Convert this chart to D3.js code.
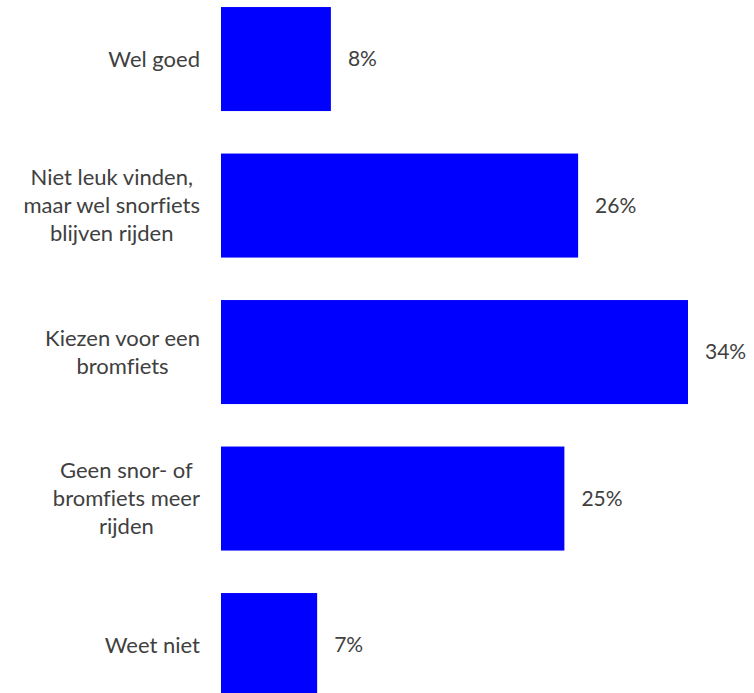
<!DOCTYPE html>
<html>
<head>
<meta charset="utf-8">
<script src="https://cdn.jsdelivr.net/npm/d3@7"></script>
<style>
  html, body { margin: 0; padding: 0; background: #ffffff; }
  svg { display: block; }
  text { font-family: Lato, "Open Sans", sans-serif; fill: #404040; font-variant-ligatures: none; }
</style>
</head>
<body>
<svg id="chart" width="754" height="693"></svg>
<script>
// Answer categories (each label broken into its display lines)
const categories = [
  ["Wel goed"],
  ["Niet leuk vinden,", "maar wel snorfiets", "blijven rijden"],
  ["Kiezen voor een", "bromfiets"],
  ["Geen snor- of", "bromfiets meer", "rijden"],
  ["Weet niet"]
];
// Share of respondents, in percent
const values = [8, 26, 34, 25, 7];

const keys = categories.map(c => c.join(" "));
const data = keys.map((k, i) => ({ key: k, lines: categories[i], value: values[i] }));

const svg = d3.select("#chart");
const labelSize = 22;
const valueSize = 21;
const lineHeight = 28;
const barLeft = 221;
const labelRight = 200;

const x = d3.scaleLinear().domain([0, 34]).range([barLeft, barLeft + 467]);
const y = d3.scaleBand()
  .domain(keys)
  .range([-14.2, 718.3])
  .paddingInner(0.29)
  .paddingOuter(0.145);

// Bars
svg.append("g").selectAll("rect")
  .data(data)
  .join("rect")
  .attr("x", x(0))
  .attr("y", d => y(d.key))
  .attr("width", d => x(d.value) - x(0))
  .attr("height", y.bandwidth())
  .attr("fill", "#0000ff");

// Value labels to the right of each bar
svg.append("g").selectAll("text")
  .data(data)
  .join("text")
  .attr("x", d => x(d.value) + 17)
  .attr("y", d => y(d.key) + y.bandwidth() / 2)
  .attr("dy", "0.35em")
  .attr("font-size", valueSize)
  .text(d => d.value + "%");

// Category labels: block right-aligned to the bars, lines centred within the block
const labels = svg.append("g").selectAll("g")
  .data(data)
  .join("g");

labels.each(function(d) {
  const g = d3.select(this);
  const cy = y(d.key) + y.bandwidth() / 2;
  const n = d.lines.length;
  const texts = g.selectAll("text")
    .data(d.lines)
    .join("text")
    .attr("font-size", labelSize)
    .attr("text-anchor", "middle")
    .attr("y", (l, i) => cy + (i - (n - 1) / 2) * lineHeight)
    .attr("dy", "0.35em")
    .text(l => l);
  const maxW = d3.max(texts.nodes(), t => t.getComputedTextLength());
  texts.attr("x", labelRight - maxW / 2);
});
</script>
</body>
</html>
